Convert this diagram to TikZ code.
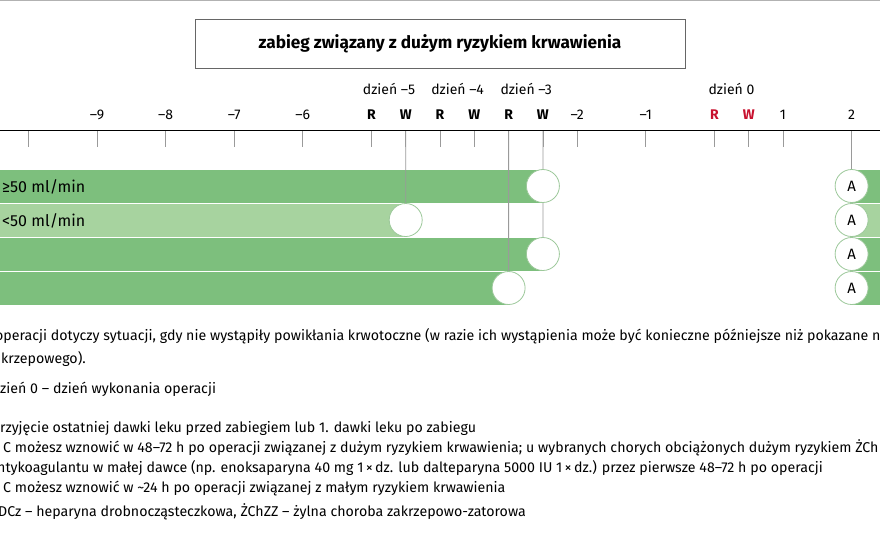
\documentclass[tikz,border=0pt]{standalone}
\usepackage{fontspec}
\setmainfont{Fira Sans}
\definecolor{bardark}{HTML}{7DBF7D}
\definecolor{barlight}{HTML}{A7D39F}
\definecolor{ringgreen}{HTML}{9CC89A}
\definecolor{tickgray}{HTML}{9A9A9A}
\definecolor{dayred}{HTML}{C8102E}
\begin{document}
\begin{tikzpicture}[x=1pt,y=-1pt,
        tick/.style={draw=tickgray,line width=0.8pt},
        lab/.style={font=\fontsize{14}{14}\selectfont,anchor=base,inner sep=0pt},
        rw/.style={lab,font=\fontsize{14}{14}\selectfont\bfseries},
        endc/.style={circle,draw=ringgreen,fill=white,line width=0.8pt,
          inner sep=0pt,minimum size=33pt,font=\fontsize{15}{15}\selectfont},
        note/.style={font=\fontsize{14.2}{14.2}\selectfont,anchor=base west,inner sep=0pt},
        rowlab/.style={note,font=\fontsize{16}{16}\selectfont}]
      \useasboundingbox (0,0) rectangle (880,539);
      % frame line and title
      \coordinate (fl) at (0,0.5);
      \coordinate (fr) at (880,0.5);
      \draw[draw=black!30,line width=1pt] (fl) -- (fr);
      \node (title) at (440,44) [draw=black!60,line width=0.8pt,minimum width=490pt,
        minimum height=49pt,font=\fontsize{17.2}{17.2}\selectfont\bfseries]
        {zabieg związany z dużym ryzykiem krwawienia};
      % time axis
      \foreach \d [count=\i] in {-10,-9,-8,-7,-6,-5,-4.5,-4,-3.5,-3,-2.5,-2,-1,0,0.5,1,2} {
        \coordinate (top\i) at ({714.4+68.6*\d},131);
        \coordinate (bot\i) at ({714.4+68.6*\d},147);
        \draw[tick] (top\i) -- (bot\i);
      }
      \foreach \i/\t in {2/–9,3/–8,4/–7,5/–6,12/–2,13/–1,16/1,17/2}
        \node[lab] (n\i) at ([yshift=12pt]top\i) {\t};
      \foreach \i/\t in {6/R,7/W,8/R,9/W,10/R,11/W}
        \node[rw] (n\i) at ([yshift=12pt]top\i) {\t};
      \foreach \i/\t in {14/R,15/W}
        \node[rw,text=dayred] (n\i) at ([yshift=12pt]top\i) {\t};
      \node[lab] (day5) at (389,94.5) {dzień –5};
      \node[lab] (day4) at (457.6,94.5) {dzień –4};
      \node[lab] (day3) at (526.2,94.5) {dzień –3};
      \node[lab] (day0) at (731.5,94.5) {dzień 0};
      \coordinate (axl) at (0,130.5);
      \coordinate (axr) at (880,130.5);
      \draw[line width=1.4pt] (axl) -- (axr);
      % bars
      \foreach \r/\y/\e/\c in {1/186/542.9/bardark,2/220/405.7/barlight,
          3/254/542.9/bardark,4/288/508.6/bardark} {
        \coordinate (e\r) at (\e,\y);
        \coordinate (a\r) at (851.6,\y);
        \fill[\c] (0,{\y-16.5}) rectangle (\e,{\y+16.5});
        \fill[\c] (851.6,{\y-16.5}) rectangle (880,{\y+16.5});
      }
      \draw[tick] (top7) -- (e2);
      \draw[tick] (top10) -- (e4);
      \draw[tick] (top11) -- (e3);
      \draw[tick] (top17) -- (a1);
      \foreach \r in {1,...,4} {
        \node[endc] (c\r) at (e\r) {};
        \node[endc] (A\r) at (a\r) {A};
      }
      \node[rowlab] (k1) at (2,192) {≥50 ml/min};
      \node[rowlab] (k2) at (2,226) {<50 ml/min};
      % footnotes
      \node[note] (f1) at (-5,340) {operacji dotyczy sytuacji, gdy nie wystąpiły powikłania krwotoczne (w razie ich wystąpienia może być konieczne późniejsze niż pokazane n};
      \node[note] (f2) at (1,363) {krzepowego).};
      \node[note] (f3) at (0,393) {zień 0 – dzień wykonania operacji};
      \node[note] (f4) at (0,432) {rzyjęcie ostatniej dawki leku przed zabiegiem lub 1. dawki leku po zabiegu};
      \node[note] (f5) at (3,452) {C możesz wznowić w 48–72 h po operacji związanej z dużym ryzykiem krwawienia; u wybranych chorych obciążonych dużym ryzykiem ŻCh};
      \node[note] (f6) at (-3,472) {ntykoagulantu w małej dawce (np. enoksaparyna 40 mg 1\,×\,dz. lub dalteparyna 5000 IU 1\,×\,dz.) przez pierwsze 48–72 h po operacji};
      \node[note] (f7) at (3,492) {C możesz wznowić w \textasciitilde24 h po operacji związanej z małym ryzykiem krwawienia};
      \node[note] (f8) at (-2,516) {DCz – heparyna drobnocząsteczkowa, ŻChZZ – żylna choroba zakrzepowo-zatorowa};
\end{tikzpicture}
\end{document}
